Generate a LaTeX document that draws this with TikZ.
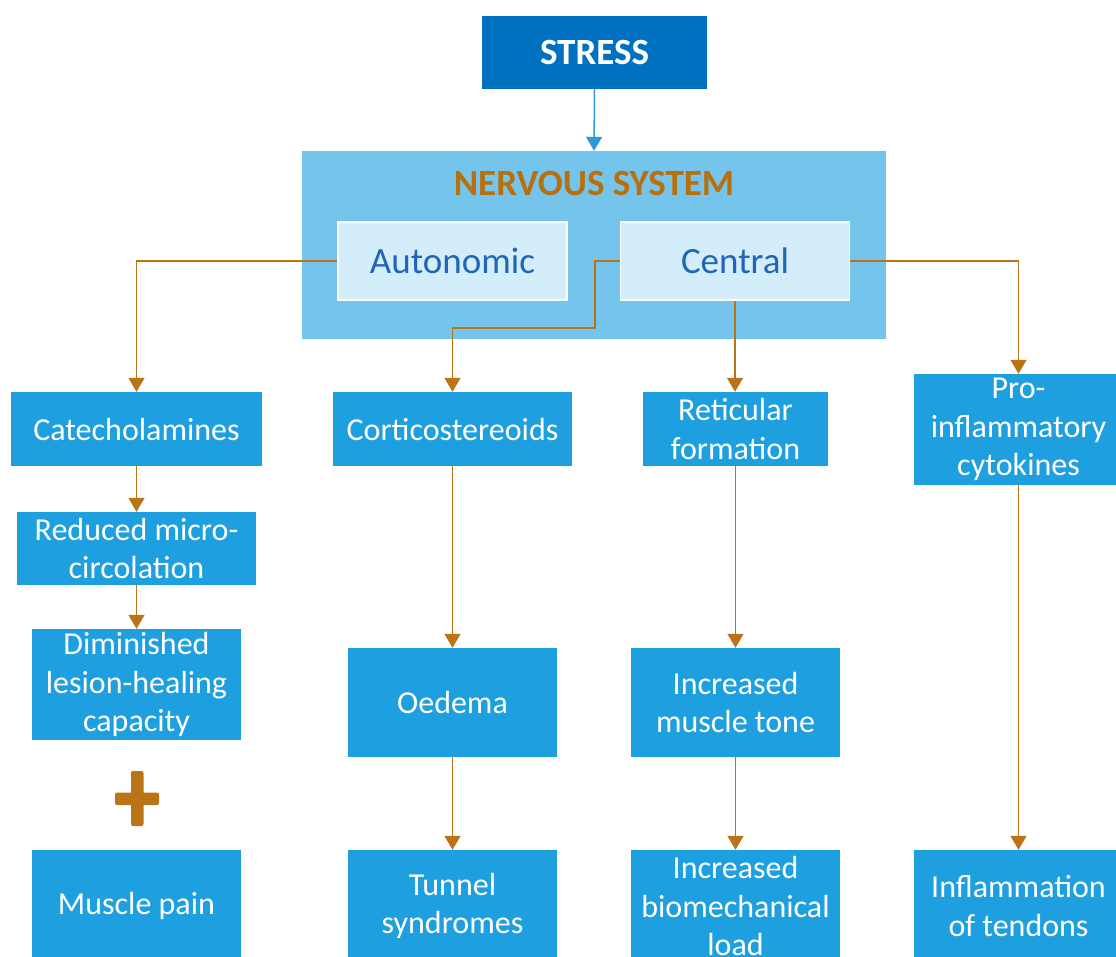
\documentclass[tikz,border=0pt]{standalone}
\usepackage{fontspec}
\setmainfont{Carlito}
\usetikzlibrary{arrows.meta}

\definecolor{stressblue}{HTML}{0070C0}
\definecolor{nsblue}{HTML}{75C4EC}
\definecolor{subblue}{HTML}{D4EDFA}
\definecolor{subtext}{HTML}{1F66B8}
\definecolor{boxblue}{HTML}{1E9FE0}
\definecolor{linkbrown}{HTML}{BA7418}
\definecolor{nstitle}{HTML}{B8700C}
\definecolor{topline}{HTML}{2C9BD8}

\tikzset{
  box/.style={fill=boxblue, text=white, inner sep=0pt, align=center,
    font=\fontsize{32}{38.5}\selectfont},
  subbox/.style={fill=subblue, draw=white, line width=1.5pt, text=subtext,
    inner sep=0pt, minimum width=229pt, minimum height=78pt,
    font=\fontsize{37}{44}\selectfont},
  tip/.style={-{Triangle[width=16pt,length=14pt]}},
  link/.style={draw=linkbrown, line width=1.5pt, tip},
}

\begin{document}
\begin{tikzpicture}[x=1pt, y=-1pt]
  \useasboundingbox (0,0) rectangle (1116,956);
  \clip (0,0) rectangle (1116,956);

  % top of the chart
  \node[fill=stressblue, text=white, inner sep=0pt, minimum width=225pt,
        minimum height=73pt, font=\fontsize{37}{44}\selectfont\bfseries]
        (stress) at (594.5,52.5) {STRESS};
  \node[fill=nsblue, inner sep=0pt, minimum width=584pt, minimum height=188pt]
        (ns) at (594,245) {};
  \node[text=nstitle, inner sep=0pt, font=\fontsize{37}{44}\selectfont\bfseries]
        (nstitle) at (594,183) {NERVOUS SYSTEM};
  \node[subbox] (aut) at (452.5,261) {Autonomic};
  \node[subbox] (cen) at (735,261) {Central};

  % first level
  \node[box, minimum width=251pt, minimum height=74pt] (cat) at (136.5,429) {Catecholamines};
  \node[box, minimum width=239pt, minimum height=74pt] (cor) at (452.5,429) {Corticostereoids};
  \node[box, minimum width=185pt, minimum height=74pt] (ret) at (735.5,429) {Reticular\\formation};
  \node[box, minimum width=209pt, minimum height=111pt] (pro) at (1018.5,429.5) {Pro-\\inflammatory\\cytokines};

  % left column
  \node[box, minimum width=239pt, minimum height=73pt] (red) at (136.5,548.5) {Reduced micro-\\circolation};
  \node[box, minimum width=209pt, minimum height=111pt] (dim) at (136.5,684.5) {Diminished\\lesion-healing\\capacity};
  \node[box, minimum width=209pt, minimum height=112pt] (pain) at (136.5,906) {Muscle pain};

  % middle columns
  \node[box, minimum width=209pt, minimum height=109pt] (oed) at (452.5,702.5) {Oedema};
  \node[box, minimum width=209pt, minimum height=112pt] (tun) at (452.5,906) {Tunnel\\syndromes};
  \node[box, minimum width=209pt, minimum height=109pt] (tone) at (735.5,702.5) {Increased\\muscle tone};
  \node[box, minimum width=209pt, minimum height=112pt] (load) at (735.5,906) {Increased\\biomechanical\\load};

  % right column
  \node[box, minimum width=209pt, minimum height=112pt] (tend) at (1018.5,906) {Inflammation\\of tendons};

  % plus sign between the left boxes
  \node[inner sep=0pt, minimum size=1pt] (plus) at (137,798.5) {};
  \fill[linkbrown, rounded corners=2pt] (115,792.5) rectangle (159,805);
  \fill[linkbrown, rounded corners=2pt] (131,771) rectangle (143.5,826);

  % connectors
  \draw[topline, line width=1.5pt, tip] (stress.south) -- (ns.north);
  \coordinate (k1) at (595,328);
  \draw[link] (aut.west) -| (cat.north);
  \draw[link] (cen.west) -| (k1) -| (cor.north);
  \draw[link] (cen.south) -- (cen.south |- ret.north);
  \draw[link] (cen.east) -| (pro.north);
  \draw[link] (cat.south) -- (red.north);
  \draw[link] (red.south) -- (dim.north);
  \draw[link] (cor.south) -- (oed.north);
  \draw[link] (oed.south) -- (tun.north);
  \draw[link] (ret.south) -- (tone.north);
  \draw[link] (tone.south) -- (load.north);
  \draw[link] (pro.south) -- (tend.north);
\end{tikzpicture}
\end{document}
